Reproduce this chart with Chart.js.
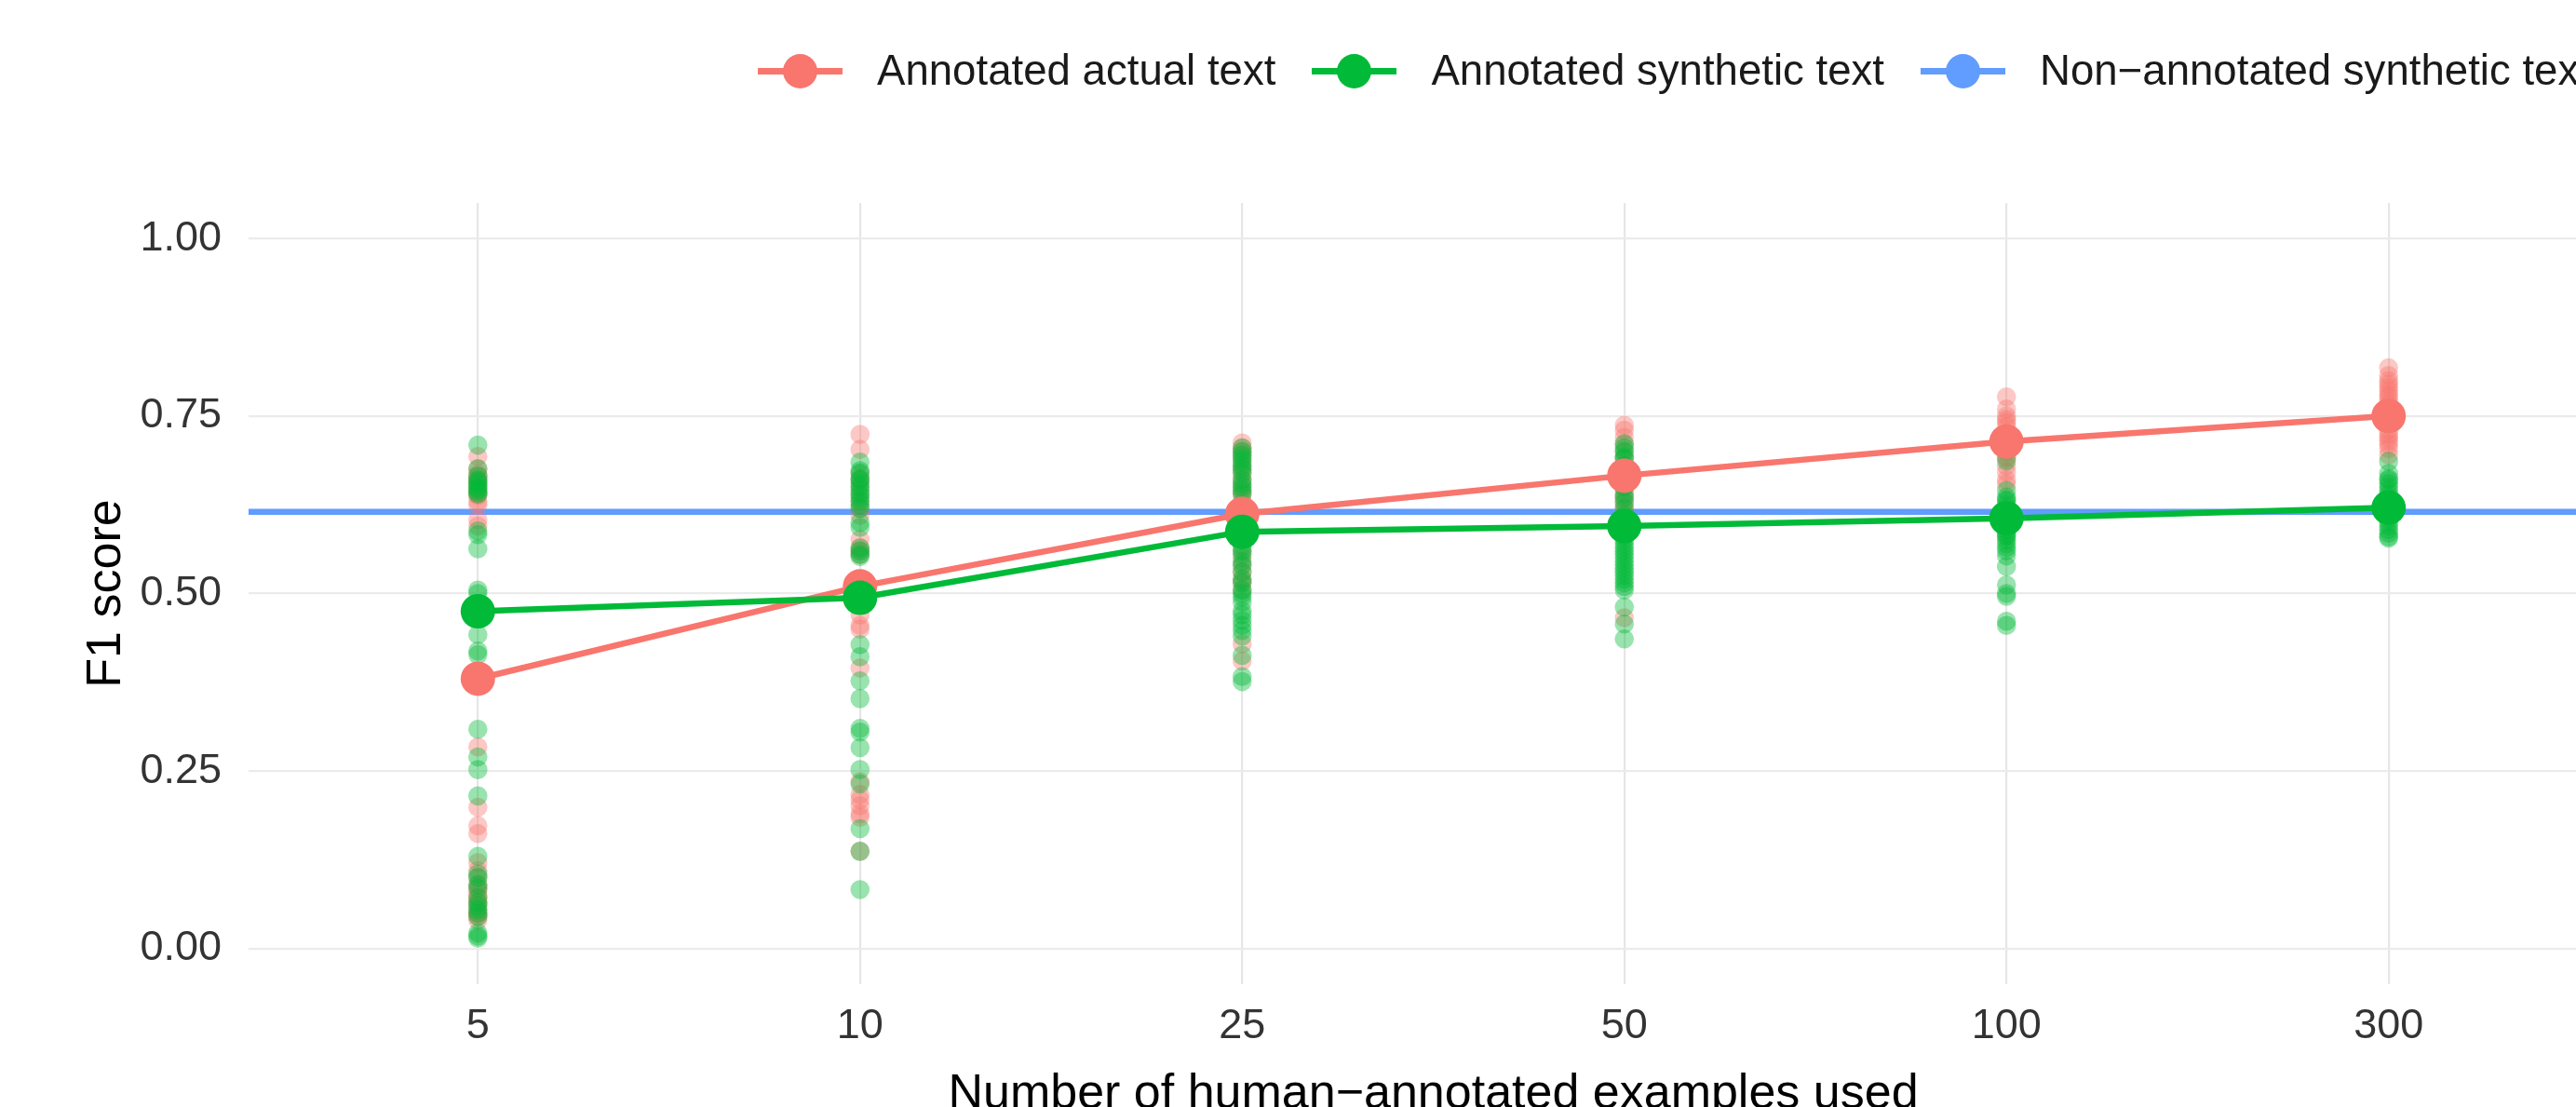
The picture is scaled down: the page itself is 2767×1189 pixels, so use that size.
<!DOCTYPE html>
<html>
<head>
<meta charset="utf-8">
<title>F1 score vs number of human-annotated examples</title>
<script src="https://cdn.jsdelivr.net/npm/chart.js@4.4.1/dist/chart.umd.min.js"></script>
<style>
  html, body { margin: 0; padding: 0; background: #fff; overflow: hidden; }
  #wrap { position: absolute; left: 0; top: 0; width: 2832px; height: 1240px; }
  #legend {
    position: absolute; left: 814px; top: 50px; height: 52px;
    display: flex; align-items: center; white-space: nowrap;
    font-family: 'Liberation Sans', Arial, sans-serif; font-size: 45.6px; color: #1a1a1a;
  }
  .item { display: flex; align-items: center; margin-right: 39px; }
  .key { position: relative; width: 91px; height: 40px; margin-right: 37px; }
  .key .ln { position: absolute; left: 0; right: 0; top: 16.5px; height: 7px; }
  .key .dot { position: absolute; left: 27px; top: 1.5px; width: 37px; height: 37px; border-radius: 50%; }
</style>
</head>
<body>
<div id="wrap">
  <canvas id="chart" width="2832" height="1240"></canvas>
  <div id="legend"></div>
</div>
<script>
// Categories on the x axis and y tick labels
const categories = ['5', '10', '25', '50', '100', '300'];
const yTicks = [0, 0.25, 0.5, 0.75, 1];
const yTickLabels = ['0.00', '0.25', '0.50', '0.75', '1.00'];

// Series names and colours
const seriesNames = ['Annotated actual text', 'Annotated synthetic text', 'Non\u2212annotated synthetic text'];
const seriesColors = ['#F8766D', '#00BA38', '#619CFF'];

// Mean F1 per category
const actualMean = [0.380, 0.510, 0.612, 0.666, 0.714, 0.750];
const syntheticMean = [0.475, 0.494, 0.587, 0.595, 0.606, 0.621];
const nonAnnotatedScore = 0.615;

// Individual runs per category
const actualRuns = [
    [0.693, 0.675, 0.668, 0.665, 0.660, 0.655, 0.652, 0.645, 0.640, 0.638, 0.630, 0.625, 0.604, 0.595, 0.284, 0.199, 0.173, 0.162, 0.121, 0.110,
     0.100, 0.090, 0.085, 0.080, 0.075, 0.070, 0.065, 0.062, 0.055, 0.050, 0.048, 0.045, 0.040],
    [0.724, 0.703, 0.668, 0.660, 0.650, 0.640, 0.630, 0.620, 0.610, 0.576, 0.565, 0.560, 0.555, 0.470, 0.455, 0.450, 0.395, 0.235,
     0.217, 0.210, 0.201, 0.190, 0.185, 0.137],
    [0.712, 0.705, 0.700, 0.695, 0.688, 0.680, 0.675, 0.668, 0.660, 0.652, 0.645, 0.640, 0.630, 0.620, 0.560, 0.550, 0.540, 0.530,
     0.520, 0.515, 0.505, 0.429, 0.405],
    [0.737, 0.730, 0.720, 0.710, 0.700, 0.690, 0.680, 0.670, 0.660, 0.650, 0.645, 0.635, 0.630, 0.622, 0.615, 0.600, 0.466],
    [0.777, 0.760, 0.750, 0.745, 0.741, 0.735, 0.725, 0.720, 0.710, 0.700, 0.693, 0.690, 0.680, 0.671, 0.660, 0.654],
    [0.818, 0.807, 0.800, 0.795, 0.790, 0.785, 0.780, 0.776, 0.770, 0.765, 0.740, 0.730, 0.724, 0.720, 0.715, 0.710, 0.704, 0.695]
];
const syntheticRuns = [
    [0.709, 0.676, 0.665, 0.660, 0.658, 0.655, 0.650, 0.648, 0.645, 0.642, 0.640, 0.588, 0.583, 0.563, 0.505, 0.500, 0.442, 0.419, 0.414,
     0.309, 0.270, 0.252, 0.215, 0.130, 0.105, 0.100, 0.090, 0.085, 0.072, 0.065, 0.060, 0.055, 0.050, 0.045, 0.022, 0.018, 0.015],
    [0.685, 0.673, 0.670, 0.662, 0.660, 0.655, 0.650, 0.645, 0.640, 0.635, 0.630, 0.625, 0.620, 0.600, 0.593, 0.564, 0.560, 0.555, 0.552,
     0.428, 0.411, 0.377, 0.352, 0.310, 0.305, 0.283, 0.252, 0.232, 0.169, 0.137, 0.083],
    [0.705, 0.700, 0.695, 0.690, 0.685, 0.680, 0.675, 0.670, 0.660, 0.655, 0.650, 0.645, 0.640, 0.566, 0.560, 0.555, 0.545, 0.540, 0.530,
     0.520, 0.515, 0.505, 0.500, 0.495, 0.488, 0.475, 0.470, 0.462, 0.455, 0.448, 0.440, 0.413, 0.383, 0.376],
    [0.711, 0.705, 0.700, 0.693, 0.690, 0.680, 0.670, 0.660, 0.655, 0.650, 0.640, 0.635, 0.628, 0.620, 0.610, 0.600, 0.590, 0.580, 0.575,
     0.570, 0.565, 0.560, 0.555, 0.550, 0.545, 0.540, 0.535, 0.530, 0.525, 0.520, 0.515, 0.510, 0.505, 0.481, 0.457, 0.436],
    [0.687, 0.645, 0.636, 0.632, 0.630, 0.625, 0.620, 0.615, 0.612, 0.605, 0.600, 0.595, 0.590, 0.585, 0.582, 0.580, 0.575, 0.570,
     0.565, 0.560, 0.553, 0.538, 0.512, 0.500, 0.496, 0.461, 0.455],
    [0.686, 0.669, 0.662, 0.660, 0.655, 0.650, 0.645, 0.640, 0.635, 0.630, 0.630, 0.625, 0.620, 0.615, 0.610, 0.610, 0.605, 0.600,
     0.595, 0.590, 0.585, 0.580, 0.578]
];

// Axis limits (ggplot-style expansion)
const X_MIN = -0.6, X_MAX = categories.length - 1 + 0.6;
const Y_MIN = -0.05, Y_MAX = 1.05;

const FONT = "'Liberation Sans', Arial, sans-serif";

function withAlpha(hex, a) {
    const n = parseInt(hex.slice(1), 16);
    return `rgba(${(n >> 16) & 255}, ${(n >> 8) & 255}, ${n & 255}, ${a})`;
}

// Turn the per-category runs into scatter points
function runPoints(runs) {
    const pts = [];
    runs.forEach((vals, i) => vals.forEach(v => pts.push({ x: i, y: v })));
    return pts;
}

function meanPoints(means) {
    return means.map((v, i) => ({ x: i, y: v }));
}

function buildLegend() {
    const box = document.getElementById('legend');
    seriesNames.forEach((name, i) => {
        const item = document.createElement('div');
        item.className = 'item';
        item.innerHTML = `<span class="key"><span class="ln" style="background:${seriesColors[i]}"></span>` +
            `<span class="dot" style="background:${seriesColors[i]}"></span></span><span>${name}</span>`;
        box.appendChild(item);
    });
}

document.addEventListener('DOMContentLoaded', function() {
    buildLegend();

    const ctx = document.getElementById('chart').getContext('2d');
    new Chart(ctx, {
        type: 'scatter',
        data: {
            datasets: [
                {
                    type: 'line', label: seriesNames[1], data: meanPoints(syntheticMean),
                    borderColor: seriesColors[1], backgroundColor: seriesColors[1], borderWidth: 6.5,
                    pointRadius: 18.5, pointHoverRadius: 18.5, pointBorderWidth: 0, tension: 0, order: 0
                },
                {
                    type: 'line', label: seriesNames[0], data: meanPoints(actualMean),
                    borderColor: seriesColors[0], backgroundColor: seriesColors[0], borderWidth: 6.5,
                    pointRadius: 18.5, pointHoverRadius: 18.5, pointBorderWidth: 0, tension: 0, order: 1
                },
                {
                    label: seriesNames[1] + ' runs', data: runPoints(syntheticRuns),
                    backgroundColor: withAlpha(seriesColors[1], 0.4), borderWidth: 0,
                    pointRadius: 10.3, pointHoverRadius: 10.3, order: 2
                },
                {
                    label: seriesNames[0] + ' runs', data: runPoints(actualRuns),
                    backgroundColor: withAlpha(seriesColors[0], 0.4), borderWidth: 0,
                    pointRadius: 10.3, pointHoverRadius: 10.3, order: 3
                },
                {
                    type: 'line', label: seriesNames[2],
                    data: [{ x: X_MIN, y: nonAnnotatedScore }, { x: X_MAX, y: nonAnnotatedScore }],
                    borderColor: seriesColors[2], borderWidth: 6.5, pointRadius: 0, order: 4
                }
            ]
        },
        options: {
            responsive: false,
            animation: false,
            devicePixelRatio: 1,
            layout: { padding: { top: 218, right: 20, left: 0, bottom: 0 } },
            plugins: {
                legend: { display: false },
                tooltip: { enabled: false }
            },
            scales: {
                x: {
                    type: 'linear',
                    min: X_MIN,
                    max: X_MAX,
                    afterBuildTicks: scale => { scale.ticks = categories.map((c, i) => ({ value: i })); },
                    afterFit: scale => { scale.height = 183; },
                    border: { display: false },
                    grid: { color: '#E6E6E6', lineWidth: 2.2, drawTicks: false },
                    ticks: {
                        padding: 19,
                        color: '#333333',
                        font: { family: FONT, size: 45 },
                        maxRotation: 0,
                        callback: (v, i) => categories[i]
                    },
                    title: {
                        display: true,
                        text: 'Number of human\u2212annotated examples used',
                        color: '#000',
                        font: { family: FONT, size: 52 },
                        padding: { top: 0, bottom: 33 }
                    }
                },
                y: {
                    min: Y_MIN,
                    max: Y_MAX,
                    afterBuildTicks: scale => { scale.ticks = yTicks.map(v => ({ value: v })); },
                    afterFit: scale => { scale.width = 267; },
                    border: { display: false },
                    grid: { color: '#EBEBEB', lineWidth: 2.2, drawTicks: false },
                    ticks: {
                        padding: 29,
                        color: '#333333',
                        font: { family: FONT, size: 45 },
                        callback: (v, i) => yTickLabels[i]
                    },
                    title: {
                        display: true,
                        text: 'F1 score',
                        color: '#000',
                        font: { family: FONT, size: 52 },
                        padding: { top: 83, bottom: 0 }
                    }
                }
            }
        }
    });
});
</script>
</body>
</html>
